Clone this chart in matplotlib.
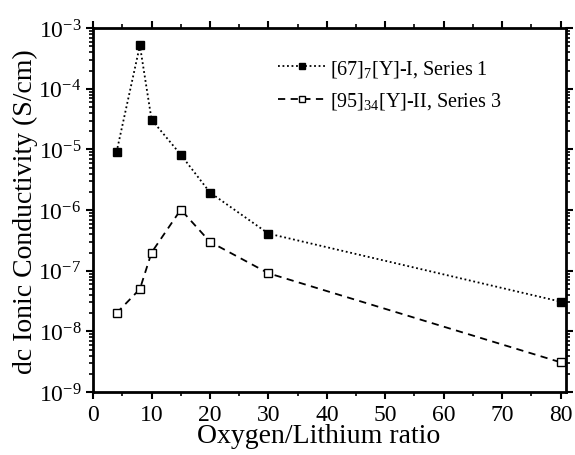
import matplotlib.pyplot as plt
from matplotlib.ticker import LogLocator, MultipleLocator, NullFormatter, FixedLocator

plt.rcParams["font.family"] = ["Liberation Serif", "DejaVu Serif"]
plt.rcParams["mathtext.fontset"] = "custom"
plt.rcParams["mathtext.rm"] = "Liberation Serif"

ratio_1 = [4, 8, 10, 15, 20, 30, 80]
sigma_1 = [9.0e-6, 5.2e-4, 3.1e-5, 8.2e-6, 1.95e-6, 4.1e-7, 3.1e-8]
ratio_3 = [4, 8, 10, 15, 20, 30, 80]
sigma_3 = [2.0e-8, 5.0e-8, 2.0e-7, 1.02e-6, 3.0e-7, 9.1e-8, 3.1e-9]
label_1 = r"[67]$_{7}$[Y]-I, Series 1"
label_3 = r"[95]$_{34}$[Y]-II, Series 3"
y_exponents = [-9, -8, -7, -6, -5, -4, -3]

fig, ax = plt.subplots(figsize=(5.75, 4.56), dpi=100)
fig.subplots_adjust(left=0.162, right=0.985, bottom=0.138, top=0.936)

ax.plot(ratio_1, sigma_1, color="black", linestyle=(0, (1, 1.5)), lw=1.3,
        marker="s", ms=6, mfc="black", mec="black", label=label_1)
ax.plot(ratio_3, sigma_3, color="black", linestyle=(0, (4, 3)), lw=1.3,
        marker="s", ms=6, mfc="white", mec="black", mew=1.0, label=label_3)

ax.set_yscale("log")
ax.set_xlim(0, 81)
ax.set_ylim(1e-9, 1e-3)
ax.xaxis.set_major_locator(MultipleLocator(10))
ax.xaxis.set_minor_locator(MultipleLocator(5))
ax.yaxis.set_major_locator(FixedLocator([10.0 ** e for e in y_exponents]))
ax.yaxis.set_minor_locator(LogLocator(base=10, subs=range(2, 10), numticks=20))
ax.yaxis.set_minor_formatter(NullFormatter())

for s in ax.spines.values():
    s.set_linewidth(2)
ax.tick_params(which="major", direction="out", length=5, width=1.5, labelsize=17,
               top=True, right=True)
ax.tick_params(which="minor", direction="out", length=3, width=1.2,
               top=True, right=True)

ax.set_xlabel("Oxygen/Lithium ratio", fontsize=20, labelpad=0)
ax.xaxis.set_label_coords(0.477, -0.085)
ax.set_ylabel("dc Ionic Conductivity (S/cm)", fontsize=20, labelpad=0)

ax.legend(loc="upper left", bbox_to_anchor=(0.39, 0.918), frameon=False,
          fontsize=14.5, handlelength=2.4, handletextpad=0.2, labelspacing=0.55,
          borderpad=0, borderaxespad=0, markerscale=0.7)

fig.savefig("out.png", dpi=100)
